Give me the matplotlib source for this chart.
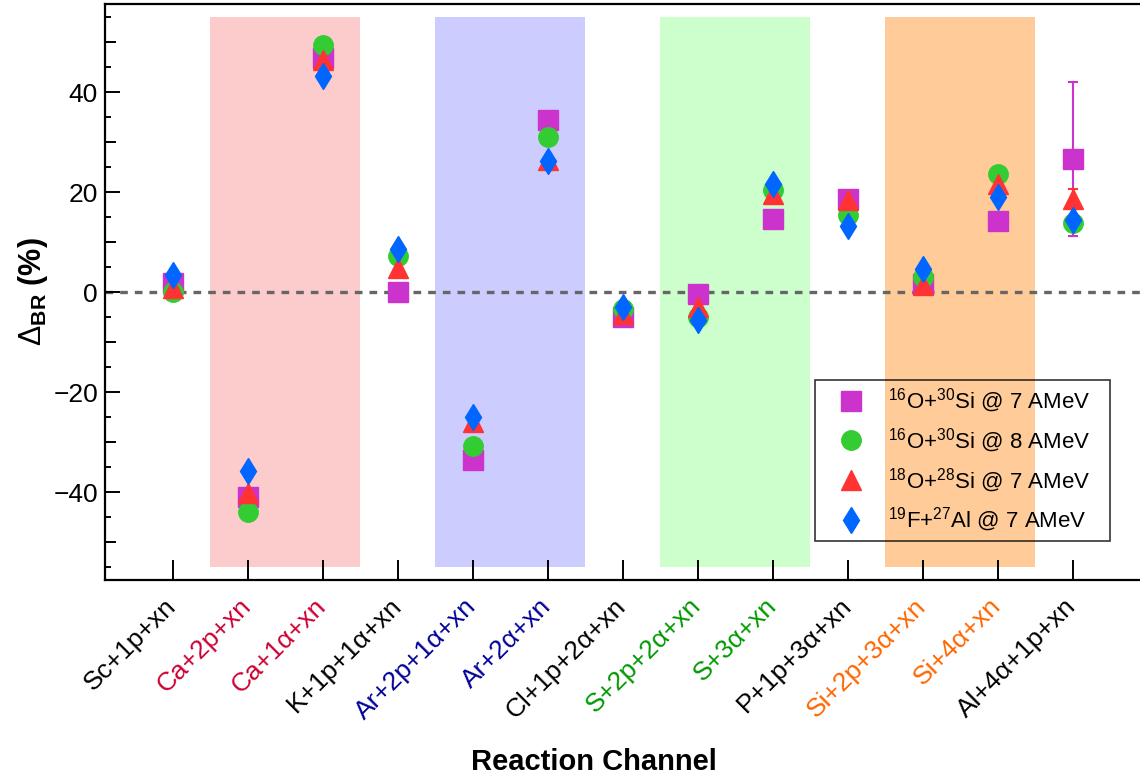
import matplotlib
matplotlib.use('Agg')
from matplotlib import pyplot as plt
from matplotlib.ticker import MultipleLocator
from matplotlib.lines import Line2D

plt.rcParams['font.family'] = ['Liberation Sans', 'DejaVu Sans']
plt.rcParams['mathtext.fontset'] = 'custom'
plt.rcParams['mathtext.rm'] = 'Liberation Sans'
plt.rcParams['mathtext.it'] = 'Liberation Sans'
plt.rcParams['mathtext.bf'] = 'Liberation Sans:bold'

channels = ['Sc+1p+xn', 'Ca+2p+xn', 'Ca+1α+xn', 'K+1p+1α+xn', 'Ar+2p+1α+xn',
            'Ar+2α+xn', 'Cl+1p+2α+xn', 'S+2p+2α+xn', 'S+3α+xn', 'P+1p+3α+xn',
            'Si+2p+3α+xn', 'Si+4α+xn', 'Al+4α+1p+xn']
label_colors = ['black', '#CC0033', '#CC0033', 'black', '#000099', '#000099',
                'black', '#009900', '#009900', 'black', '#FF6600', '#FF6600',
                'black']

o16_si30_7 = [1.9, -41.0, 46.9, 0.0, -33.5, 34.5, -5.0, -0.4, 14.7, 18.7, 1.7, 14.3, 26.6]
o16_si30_8 = [0.1, -44.0, 49.5, 7.3, -30.8, 31.1, -3.3, -4.9, 20.4, 15.4, 3.1, 23.6, 13.9]
o18_si28_7 = [0.8, -40.2, 46.4, 4.8, -26.0, 26.4, -4.3, -2.9, 19.7, 18.4, 1.4, 21.7, 18.7]
f19_al27_7 = [3.4, -35.7, 43.2, 8.7, -24.9, 26.2, -2.9, -5.5, 21.7, 13.2, 4.7, 19.1, 14.4]

# only the Al channel carries visible error bars
err_o16_si30_7 = [0, 0, 0, 0, 0, 0, 0, 0, 0, 0, 0, 0, 15.3]
err_o18_si28_7 = [0, 0, 0, 0, 0, 0, 0, 0, 0, 0, 0, 0, 2.0]

# shaded groups (first channel index, last channel index, colour)
bands = [(1, 2, '#FCCCCC'), (4, 5, '#CCCCFF'), (7, 8, '#CCFFCC'), (10, 11, '#FFCC99')]

series = [
    (o16_si30_7, err_o16_si30_7, 's', 14, '#CC33CC', r'$^{16}$O+$^{30}$Si @ 7 AMeV'),
    (o16_si30_8, None, 'o', 14, '#33CC33', r'$^{16}$O+$^{30}$Si @ 8 AMeV'),
    (o18_si28_7, err_o18_si28_7, '^', 15, '#FF3333', r'$^{18}$O+$^{28}$Si @ 7 AMeV'),
    (f19_al27_7, None, 'd', 13.5, '#0066FF', r'$^{19}$F+$^{27}$Al @ 7 AMeV'),
]

fig = plt.figure(figsize=(11.4, 7.8), dpi=100)
ax = fig.add_axes([105 / 1140, 200 / 780, 1035 / 1140, 576 / 780])

x = list(range(len(channels)))

for lo, hi, c in bands:
    ax.fill_betweenx([-55, 55], lo - 0.5, hi + 0.5, color=c, lw=0, zorder=0)

ax.axhline(0, color='#666666', lw=2.4, ls=(0, (2.3, 2.1)), zorder=1)

handles = []
for vals, err, mk, ms, col, lab in series:
    if err is not None:
        ex = [xi for xi, e in zip(x, err) if e > 0]
        ey = [v for v, e in zip(vals, err) if e > 0]
        ee = [e for e in err if e > 0]
        ax.errorbar(ex, ey, yerr=ee, fmt='none', ecolor=col, elinewidth=1.5,
                    capsize=3.5, capthick=1.5, zorder=2)
    ax.plot(x, vals, ls='none', marker=mk, ms=ms, color=col, mec=col, zorder=3)
    handles.append(Line2D([], [], ls='none', marker=mk, ms=ms, color=col, mec=col, label=lab))

ax.set_xlim(-0.9, 12.9)
ax.set_ylim(-57.6, 57.6)

ax.set_xticks(x)
ax.set_xticklabels(channels, rotation=45, ha='right', va='center',
                   rotation_mode='anchor', fontsize=19)
for t, c in zip(ax.get_xticklabels(), label_colors):
    t.set_color(c)
ax.tick_params(axis='x', direction='in', length=14.5, width=1.4, pad=16)

ax.yaxis.set_major_locator(MultipleLocator(20))
ax.yaxis.set_minor_locator(MultipleLocator(5))
ax.tick_params(axis='y', which='major', direction='in', length=11, width=1.4,
               labelsize=19, pad=5)
ax.tick_params(axis='y', which='minor', direction='in', length=4.5, width=1.4)

sec = ax.secondary_yaxis('left')
sec.set_yticks([-50, -30, -10, 10, 30, 50])
sec.tick_params(direction='in', length=8, width=1.4, labelleft=False)
sec.spines['left'].set_visible(False)

for side in ['left', 'bottom', 'top']:
    ax.spines[side].set_linewidth(1.6)
ax.spines['right'].set_visible(False)

ax.set_ylabel(r'$\Delta_{\mathbf{BR}}$ (%)', fontsize=22, fontweight='bold')
ax.yaxis.set_label_coords(-0.053, 0.5)
fig.text(594 / 1140, 1 - 762 / 780, 'Reaction Channel', fontsize=21,
         fontweight='bold', ha='center', va='center')

leg = ax.legend(handles=handles, loc='lower left',
                bbox_to_anchor=(0.686, 0.0677, 0.285, 0.276), mode='expand',
                borderaxespad=0, fontsize=16, frameon=True, fancybox=False,
                edgecolor='black', facecolor='none',
                borderpad=0.3, handlelength=2.64, handletextpad=0.35,
                labelspacing=0.5)
leg.get_frame().set_linewidth(1.2)

plt.savefig('out.png', dpi=100)
